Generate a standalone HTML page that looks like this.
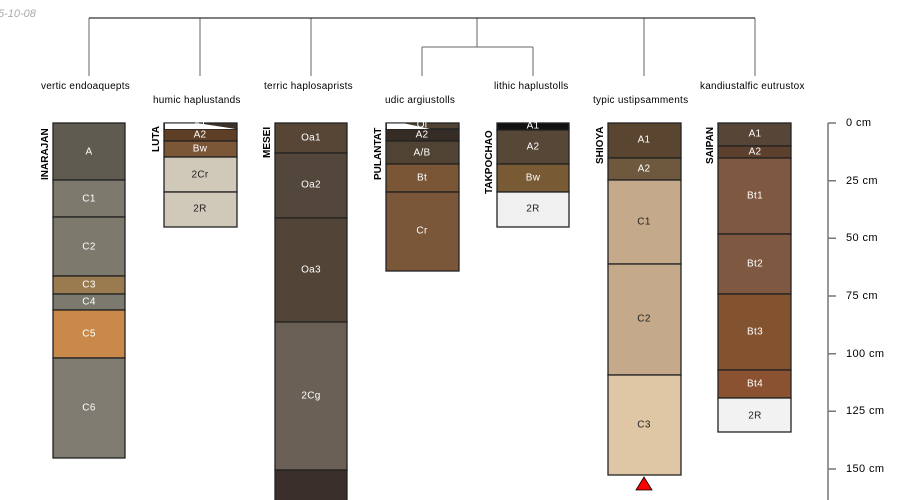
<!DOCTYPE html>
<html><head><meta charset="utf-8"><style>
html,body{margin:0;padding:0;background:#fff;}
svg{display:block;font-family:"Liberation Sans",sans-serif;}
.h{stroke:#222;stroke-width:1.3;}
.t{font-size:10px;fill:#fff;text-anchor:middle;dominant-baseline:central;letter-spacing:0.3px;}
.d{fill:#222;}
.n{font-size:10px;font-weight:bold;fill:#000;}
.l{font-size:10px;fill:#000;letter-spacing:0.25px;}
.ax{font-size:11px;fill:#000;dominant-baseline:central;letter-spacing:0.4px;}
</style></head><body>
<svg width="900" height="500" viewBox="0 0 900 500">
<text x="-2" y="17" style="font-size:11px;fill:#aaa;font-style:italic">5-10-08</text>
<g stroke="#000" stroke-width="1" fill="none">
<path d="M89 18V76M200 18V76M311 18V76M644 18V76M755 18V76M477 18V47M422 47H533M422 47V76M533 47V76" stroke="#666"/>
<path d="M89 18H755"/>
</g>
<text class="l" x="41" y="89">vertic endoaquepts</text>
<text class="l" x="153" y="103">humic haplustands</text>
<text class="l" x="264" y="89">terric haplosaprists</text>
<text class="l" x="385" y="103">udic argiustolls</text>
<text class="l" x="494" y="89">lithic haplustolls</text>
<text class="l" x="593" y="103">typic ustipsamments</text>
<text class="l" x="700" y="89">kandiustalfic eutrustox</text>

<g class="h">
<rect x="53" y="123" width="72" height="57" fill="#5f5b50"/>
<rect x="53" y="180" width="72" height="37" fill="#7d7a6d"/>
<rect x="53" y="217" width="72" height="59" fill="#7d7a6d"/>
<rect x="53" y="276" width="72" height="18" fill="#9a7b4f"/>
<rect x="53" y="294" width="72" height="16" fill="#7c7a6e"/>
<rect x="53" y="310" width="72" height="48" fill="#c8894a"/>
<rect x="53" y="358" width="72" height="100" fill="#7f7b70"/>
</g>
<text class="t" x="89" y="152">A</text><text class="t" x="89" y="199">C1</text><text class="t" x="89" y="247">C2</text><text class="t" x="89" y="285">C3</text><text class="t" x="89" y="302">C4</text><text class="t" x="89" y="334">C5</text><text class="t" x="89" y="408">C6</text>
<text class="n" transform="translate(48,180) rotate(-90)">INARAJAN</text>

<g class="h">
<rect x="164" y="123" width="73" height="6" fill="#3d3229"/>
<rect x="164" y="129" width="73" height="12" fill="#5e3f26"/>
<rect x="164" y="141" width="73" height="16" fill="#7b5637"/>
<rect x="164" y="157" width="73" height="35" fill="#d0c8b9"/>
<rect x="164" y="192" width="73" height="35" fill="#d0c8b9"/>
</g>
<polygon points="165,123.5 200,123.5 236,129 165,129" fill="#fff"/>
<text class="t" x="200" y="125">A1</text><text class="t" x="200" y="135">A2</text><text class="t" x="200" y="149">Bw</text><text class="t d" x="200" y="175">2Cr</text><text class="t d" x="200" y="209">2R</text>
<text class="n" transform="translate(159,152) rotate(-90)">LUTA</text>

<g class="h">
<rect x="275" y="123" width="72" height="30" fill="#574536"/>
<rect x="275" y="153" width="72" height="65" fill="#53463a"/>
<rect x="275" y="218" width="72" height="104" fill="#524436"/>
<rect x="275" y="322" width="72" height="148" fill="#6a6055"/>
<rect x="275" y="470" width="72" height="40" fill="#3a2f2a"/>
</g>
<text class="t" x="311" y="138">Oa1</text><text class="t" x="311" y="185">Oa2</text><text class="t" x="311" y="270">Oa3</text><text class="t" x="311" y="396">2Cg</text>
<text class="n" transform="translate(270,158) rotate(-90)">MESEI</text>

<g class="h">
<rect x="386" y="123" width="73" height="6" fill="#4f4233"/>
<rect x="386" y="129" width="73" height="12" fill="#362c26"/>
<rect x="386" y="141" width="73" height="23" fill="#504334"/>
<rect x="386" y="164" width="73" height="28" fill="#7a5636"/>
<rect x="386" y="192" width="73" height="79" fill="#7a5738"/>
</g>
<polygon points="387,123.5 405,123.5 430,129 387,129" fill="#fff"/>
<text class="t" x="422" y="125">Oi</text><text class="t" x="422" y="135">A2</text><text class="t" x="422" y="153">A/B</text><text class="t" x="422" y="178">Bt</text><text class="t" x="422" y="231">Cr</text>
<text class="n" transform="translate(381,180) rotate(-90)">PULANTAT</text>

<g class="h">
<rect x="497" y="123" width="72" height="7" fill="#111"/>
<rect x="497" y="130" width="72" height="34" fill="#574736"/>
<rect x="497" y="164" width="72" height="28" fill="#785a35"/>
<rect x="497" y="192" width="72" height="35" fill="#f0f0f0"/>
</g>
<text class="t" x="533" y="126">A1</text><text class="t" x="533" y="147">A2</text><text class="t" x="533" y="178">Bw</text><text class="t d" x="533" y="209">2R</text>
<text class="n" transform="translate(492,194) rotate(-90)">TAKPOCHAO</text>

<g class="h">
<rect x="608" y="123" width="73" height="35" fill="#5a4530"/>
<rect x="608" y="158" width="73" height="22" fill="#6e593f"/>
<rect x="608" y="180" width="73" height="84" fill="#c4aa8a"/>
<rect x="608" y="264" width="73" height="111" fill="#c4aa8a"/>
<rect x="608" y="375" width="73" height="100" fill="#dfc6a4"/>
</g>
<text class="t" x="644" y="140">A1</text><text class="t" x="644" y="169">A2</text><text class="t d" x="644" y="222">C1</text><text class="t d" x="644" y="319">C2</text><text class="t d" x="644" y="425">C3</text>
<polygon points="644,477 636,490 652,490" fill="#f00" stroke="#000" stroke-width="0.8"/>
<text class="n" transform="translate(603,164) rotate(-90)">SHIOYA</text>

<g class="h">
<rect x="718" y="123" width="73" height="23" fill="#574537"/>
<rect x="718" y="146" width="73" height="12" fill="#5d3f2e"/>
<rect x="718" y="158" width="73" height="76" fill="#7e5840"/>
<rect x="718" y="234" width="73" height="60" fill="#7e5840"/>
<rect x="718" y="294" width="73" height="76" fill="#83522f"/>
<rect x="718" y="370" width="73" height="28" fill="#8a5231"/>
<rect x="718" y="398" width="73" height="34" fill="#f2f2f2"/>
</g>
<text class="t" x="755" y="134">A1</text><text class="t" x="755" y="152">A2</text><text class="t" x="755" y="196">Bt1</text><text class="t" x="755" y="264">Bt2</text><text class="t" x="755" y="332">Bt3</text><text class="t" x="755" y="384">Bt4</text><text class="t d" x="755" y="416">2R</text>
<text class="n" transform="translate(713,164) rotate(-90)">SAIPAN</text>

<g stroke="#777" stroke-width="1.5">
<path d="M828 123V500"/>
<path d="M828 123H836M828 180.7H836M828 238.3H836M828 296H836M828 353.7H836M828 411.3H836M828 469H836"/>
</g>
<text class="ax" x="846" y="123">0 cm</text>
<text class="ax" x="846" y="181">25 cm</text>
<text class="ax" x="846" y="238">50 cm</text>
<text class="ax" x="846" y="296">75 cm</text>
<text class="ax" x="846" y="354">100 cm</text>
<text class="ax" x="846" y="411">125 cm</text>
<text class="ax" x="846" y="469">150 cm</text>
</svg>
</body></html>
